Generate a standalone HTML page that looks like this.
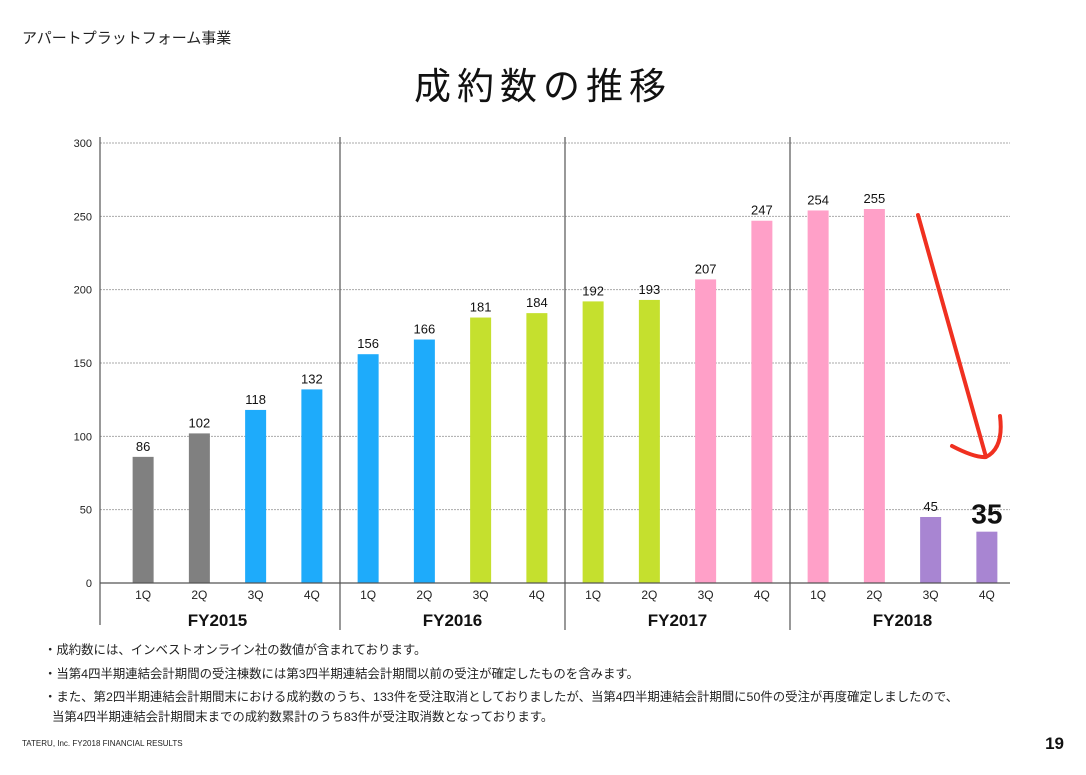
<!DOCTYPE html>
<html><head><meta charset="utf-8"><style>
body{margin:0;width:1086px;height:770px;background:#fff;overflow:hidden;font-family:"Liberation Sans","Noto Sans CJK JP",sans-serif;}
</style></head><body>
<svg width="1086" height="770" xmlns="http://www.w3.org/2000/svg" font-family="Liberation Sans, Noto Sans CJK JP, sans-serif">
<text x="22" y="43" font-size="15" fill="#222">アパートプラットフォーム事業</text>
<text x="543" y="99" font-size="37" text-anchor="middle" fill="#111" letter-spacing="6">成約数の推移</text>
<g id="chart"></g>
<path d="M918 215 L986 457 M952 446 Q975 458 986 457 Q1004 448 1000 416" stroke="#f03020" stroke-width="4" fill="none" stroke-linecap="round"/>
<g font-size="12.4" fill="#222">
<text x="44" y="654">・成約数には、インベストオンライン社の数値が含まれております。</text>
<text x="44" y="678">・当第4四半期連結会計期間の受注棟数には第3四半期連結会計期間以前の受注が確定したものを含みます。</text>
<text x="44" y="701">・また、第2四半期連結会計期間末における成約数のうち、133件を受注取消としておりましたが、当第4四半期連結会計期間に50件の受注が再度確定しましたので、</text>
<text x="52" y="721">当第4四半期連結会計期間末までの成約数累計のうち83件が受注取消数となっております。</text>
</g>
<text x="22" y="746" font-size="8" fill="#222">TATERU, Inc. FY2018 FINANCIAL RESULTS</text>
<text x="1064" y="749" font-size="17" font-weight="bold" text-anchor="end" fill="#111">19</text>
</svg>
<script>
const categories=["1Q","2Q","3Q","4Q","1Q","2Q","3Q","4Q","1Q","2Q","3Q","4Q","1Q","2Q","3Q","4Q"];
const values=[86,102,118,132,156,166,181,184,192,193,207,247,254,255,45,35];
const colors=["#808080","#808080","#1eabfb","#1eabfb","#1eabfb","#1eabfb","#c5e02e","#c5e02e","#c5e02e","#c5e02e","#ffa0c8","#ffa0c8","#ffa0c8","#ffa0c8","#a885d2","#a885d2"];
const years=["FY2015","FY2016","FY2017","FY2018"];
const yTicks=[0,50,100,150,200,250,300];
const NS="http://www.w3.org/2000/svg";
const g=document.getElementById('chart');
const y0=583,yTop=143,x0=115,step=56.25;
const Y=v=>y0-(v/300)*(y0-yTop);
const X=i=>x0+step*(i+0.5);
function el(t,a,txt){const e=document.createElementNS(NS,t);for(const k in a)e.setAttribute(k,a[k]);if(txt!==undefined)e.textContent=txt;g.appendChild(e);return e;}
yTicks.forEach(t=>{
 if(t>0){const l=el('line',{x1:100,x2:1010,y1:Y(t),y2:Y(t),stroke:'#aaa','stroke-dasharray':'2,1','stroke-width':1});
 
 }
 const tx=el('text',{x:92,y:Y(t)+4,'font-size':11,'text-anchor':'end',fill:'#222'},t);
 
 
});
values.forEach((v,i)=>{
 const r=el('rect',{x:X(i)-10.5,y:Y(v),width:21,height:y0-Y(v),fill:colors[i]});
 
 
 const big=i===values.length-1;
 const t=el('text',{x:X(i),y:Y(v)-(big?8:6),'font-size':big?28:13,'font-weight':big?'bold':'normal','text-anchor':'middle',fill:'#111'},v);
 
 
 const c=el('text',{x:X(i),y:599,'font-size':12,'text-anchor':'middle',fill:'#222'},categories[i]);
 
 
});
const ax=el('line',{x1:100,x2:1010,y1:y0,y2:y0,stroke:'#555','stroke-width':1.2});


const ay=el('line',{x1:100,x2:100,y1:137,y2:625,stroke:'#555','stroke-width':1.2});


years.forEach((yr,k)=>{
 if(k>0){const d=el('line',{x1:x0+step*4*k,x2:x0+step*4*k,y1:137,y2:630,stroke:'#555','stroke-width':1.2});
 
 }
 const t=el('text',{x:x0+step*(4*k+2)-(k===0?10:0),y:626,'font-size':17,'font-weight':'bold','text-anchor':'middle',fill:'#111'},yr);
 
 
});
</script>
</body></html>
